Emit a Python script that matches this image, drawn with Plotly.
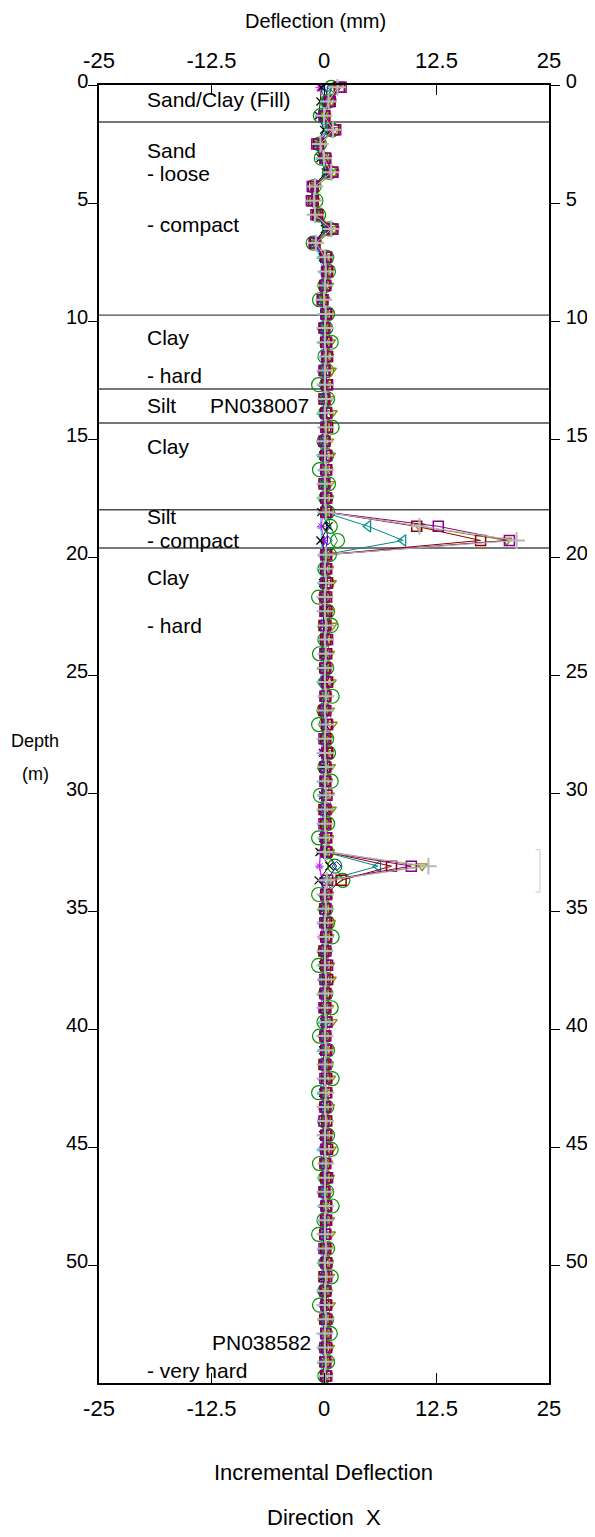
import plotly.graph_objects as go

# ---------------- data ----------------
depth = [-0.5, 0.1, 0.7, 1.3, 1.9, 2.5, 3.1, 3.7, 4.3, 4.9,
         5.5, 6.1, 6.7, 7.3, 7.9, 8.5, 9.1, 9.7, 10.3, 10.9,
         11.5, 12.1, 12.7, 13.3, 13.9, 14.5, 15.1, 15.7, 16.3, 16.9,
         17.5, 18.1, 18.7, 19.3, 19.9, 20.5, 21.1, 21.7, 22.3, 22.9,
         23.5, 24.1, 24.7, 25.3, 25.9, 26.5, 27.1, 27.7, 28.3, 28.9,
         29.5, 30.1, 30.7, 31.3, 31.9, 32.5, 33.1, 33.7, 34.3, 34.9,
         35.5, 36.1, 36.7, 37.3, 37.9, 38.5, 39.1, 39.7, 40.3, 40.9,
         41.5, 42.1, 42.7, 43.3, 43.9, 44.5, 45.1, 45.7, 46.3, 46.9,
         47.5, 48.1, 48.7, 49.3, 49.9, 50.5, 51.1, 51.7, 52.3, 52.9,
         53.5, 54.1, 54.7]

s_cyan = [-0.4, -0.2, 0.0, -0.6, 0.2, -0.9, -0.5, 0.2, -1.2, -1.2,
          -0.8, 0.2, -1.3, -0.4, -0.2, -0.3, -0.5, -0.2, -0.4, -0.3,
          -0.2, -0.4, -0.3, -0.1, -0.4, -0.2, -0.3, -0.4, -0.2, -0.3,
          -0.2, -0.3, -0.4, -0.2, -0.3, -0.4, -0.2, -0.3, -0.1, -0.4,
          -0.3, -0.2, -0.4, -0.3, -0.2, -0.4, -0.1, -0.3, -0.2, -0.4,
          -0.3, -0.2, -0.4, -0.3, -0.2, -0.4, -0.5, -0.3, -0.2, -0.4,
          -0.3, -0.1, -0.4, -0.2, -0.3, -0.4, -0.2, -0.3, -0.1, -0.4,
          -0.2, -0.3, -0.4, -0.2, -0.3, -0.1, -0.4, -0.2, -0.3, -0.4,
          -0.2, -0.3, -0.1, -0.4, -0.2, -0.3, -0.4, -0.2, -0.3, -0.2,
          -0.3, -0.4, -0.2]

s_magenta = [0.6, -0.5, 0.3, -0.5, 0.4, -0.9, -0.4, 0.3, -1.3, -1.3,
             -0.9, 0.3, -1.2, -0.2, 0.0, -0.3, -0.4, 0.0, -0.3, -0.1,
             0.0, -0.3, -0.1, 0.1, -0.2, 0.0, -0.3, -0.1, 0.0, -0.2,
             0.0, -0.1, -0.3, 0.0, -0.2, -0.1, 0.0, -0.3, -0.1, 0.0,
             -0.2, 0.1, -0.1, -0.3, 0.0, -0.2, 0.1, -0.1, -0.3, 0.0,
             -0.1, -0.2, 0.0, -0.3, -0.1, -0.4, -0.5, -0.2, -0.1, 0.0,
             -0.2, -0.3, 0.1, -0.1, 0.0, -0.2, -0.3, 0.0, -0.1, 0.1,
             -0.2, 0.0, -0.1, -0.3, 0.0, -0.1, -0.2, 0.1, -0.1, -0.3,
             0.0, -0.2, -0.1, 0.1, -0.3, 0.0, -0.1, -0.2, 0.0, -0.1,
             -0.2, 0.0, -0.1]

s_blue = [0.8, 0.4, 0.1, -0.3, 0.5, -0.6, -0.1, 0.4, -1.0, -1.1,
          -0.7, 0.4, -1.0, 0.0, 0.1, 0.2, -0.2, 0.1, 0.0, 0.2,
          0.1, 0.0, 0.2, 0.1, 0.0, 0.1, 0.2, 0.0, 0.1, 0.2,
          0.0, 0.1, 0.3, 0.4, 0.1, 0.2, 0.0, 0.1, 0.2, 0.1,
          0.0, 0.2, 0.1, 0.0, 0.1, 0.2, 0.1, 0.0, 0.2, 0.1,
          0.0, 0.1, 0.2, 0.0, 0.1, 0.2, 1.4, 0.3, 0.1, 0.0,
          0.2, 0.1, 0.0, 0.1, 0.2, 0.0, 0.1, 0.2, 0.1, 0.0,
          0.1, 0.2, 0.0, 0.1, 0.2, 0.1, 0.0, 0.1, 0.2, 0.0,
          0.1, 0.2, 0.1, 0.0, 0.2, 0.1, 0.0, 0.1, 0.2, 0.1,
          0.0, 0.1, 0.2]

s_black = [0.9, -0.3, -0.4, -0.6, 0.0, -0.8, -0.4, 0.2, -1.1, -1.0,
           -0.8, 0.1, -1.1, -0.1, 0.1, -0.1, -0.3, 0.1, -0.1, 0.0,
           0.1, -0.1, 0.0, 0.1, -0.1, 0.0, 0.1, -0.1, 0.0, 0.1,
           0.0, -0.3, 0.5, -0.4, 0.3, 0.0, -0.1, 0.1, 0.0, -0.1,
           0.1, 0.0, -0.1, 0.1, 0.0, -0.1, 0.1, 0.0, -0.1, 0.0,
           0.1, -0.1, 0.0, 0.1, -0.1, -0.5, 0.6, -0.6, 0.5, 0.0,
           -0.1, 0.1, 0.0, -0.1, 0.1, 0.0, -0.1, 0.0, 0.1, -0.1,
           0.0, 0.1, -0.1, 0.0, 0.1, -0.1, 0.0, 0.1, 0.0, -0.1,
           0.1, 0.0, -0.1, 0.0, 0.1, -0.1, 0.0, 0.1, -0.1, 0.0,
           0.1, 0.0, -0.1]

s_teal = [1.0, 0.9, 0.2, -0.3, 0.6, -0.7, -0.2, 0.5, -1.0, -1.0,
          -0.8, 0.5, -1.1, -0.1, 0.1, 0.0, -0.3, 0.1, -0.2, 0.0,
          0.1, -0.1, 0.0, 0.2, -0.1, 0.1, 0.0, -0.2, 0.1, 0.0,
          0.1, 0.0, 4.9, 8.8, 0.1, 0.0, -0.1, 0.1, 0.0, 0.2,
          -0.1, 0.0, 0.1, -0.2, 0.0, 0.1, 0.0, -0.1, 0.2, 0.0,
          0.1, -0.1, 0.0, 0.1, 0.0, 0.1, 6.0, 0.3, 0.0, 0.1,
          -0.1, 0.0, 0.2, 0.0, -0.1, 0.1, 0.0, 0.1, -0.2, 0.0,
          0.1, 0.0, -0.1, 0.1, 0.0, 0.2, -0.1, 0.0, 0.1, 0.0,
          -0.1, 0.1, 0.0, 0.1, -0.1, 0.0, 0.2, 0.0, -0.1, 0.1,
          0.0, 0.1, 0.0]

s_green = [1.4, 0.8, 0.4, -0.4, 0.9, -0.5, -0.3, 0.6, -1.1, -0.9,
           -0.6, 0.6, -1.2, 0.3, 0.5, 0.1, -0.5, 0.4, 0.2, 0.8,
           0.1, 0.3, -0.6, 0.4, 0.2, 0.9, 0.0, 0.3, -0.5, 0.5,
           0.2, 0.4, 0.7, 1.5, 0.6, 0.1, 0.3, -0.6, 0.4, 0.8,
           0.1, -0.5, 0.3, 0.2, 0.9, 0.0, -0.6, 0.3, 0.5, 0.1,
           0.8, -0.4, 0.2, 0.4, -0.6, 0.3, 1.2, 2.1, -0.6, 0.2,
           0.4, 0.9, 0.1, -0.6, 0.3, 0.2, 0.8, 0.0, -0.5, 0.4,
           0.2, 0.9, -0.6, 0.3, 0.1, 0.4, 0.8, -0.5, 0.2, 0.3,
           0.9, 0.0, -0.6, 0.4, 0.2, 0.8, 0.1, -0.5, 0.3, 0.7,
           0.2, 0.4, 0.1]

s_olive = [1.8, 1.4, 0.8, 0.2, 1.2, -0.4, 0.3, 1.1, -0.9, -1.0,
           -0.6, 1.1, -0.8, 0.4, 0.6, 0.5, 0.1, 0.6, 0.3, 0.7,
           0.5, 0.8, 0.4, 0.6, 0.9, 0.3, 0.5, 0.7, 0.4, 0.6,
           0.5, 0.4, 10.6, 20.3, 0.6, 0.5, 0.8, 0.3, 0.6, 0.9,
           0.4, 0.6, 0.5, 0.8, 0.3, 0.6, 0.9, 0.4, 0.5, 0.7,
           0.4, 0.6, 0.8, 0.3, 0.5, 0.6, 10.9, 0.7, 0.5, 0.4,
           0.7, 0.5, 0.3, 0.6, 0.8, 0.4, 0.5, 0.9, 0.3, 0.6,
           0.5, 0.7, 0.4, 0.6, 0.3, 0.5, 0.8, 0.4, 0.6, 0.5,
           0.3, 0.6, 0.7, 0.4, 0.5, 0.6, 0.3, 0.7, 0.5, 0.4,
           0.6, 0.5, 0.4]

s_darkred = [2.3, 1.7, 0.6, 0.1, 1.1, -0.6, 0.1, 0.9, -1.2, -1.2,
             -0.7, 0.9, -1.0, 0.2, 0.4, 0.1, -0.2, 0.3, 0.0, 0.2,
             0.4, 0.1, 0.3, 0.0, 0.2, 0.4, 0.1, 0.2, 0.3, 0.0,
             0.2, 0.2, 10.3, 17.4, 0.3, 0.2, 0.4, 0.1, 0.3, 0.0,
             0.2, 0.3, 0.1, 0.4, 0.2, 0.0, 0.3, 0.2, 0.4, 0.1,
             0.2, 0.3, 0.0, 0.2, 0.3, 0.3, 7.5, 1.9, 0.2, 0.1,
             0.3, 0.2, 0.0, 0.2, 0.4, 0.1, 0.2, 0.3, 0.1, 0.2,
             0.0, 0.3, 0.2, 0.1, 0.3, 0.2, 0.4, 0.1, 0.2, 0.0,
             0.3, 0.2, 0.1, 0.2, 0.3, 0.0, 0.2, 0.3, 0.1, 0.2,
             0.3, 0.1, 0.2]

s_purple = [2.6, 1.9, 0.7, 0.0, 1.3, -0.8, 0.2, 1.0, -1.3, -1.4,
            -0.9, 1.0, -1.1, 0.3, 0.3, 0.2, -0.1, 0.2, 0.1, 0.3,
            0.3, 0.0, 0.4, 0.1, 0.3, 0.2, 0.0, 0.3, 0.2, 0.1,
            0.3, 0.3, 12.7, 20.6, 0.2, 0.3, 0.2, 0.3, 0.1, 0.2,
            0.4, 0.1, 0.2, 0.3, 0.1, 0.2, 0.4, 0.0, 0.3, 0.2,
            0.1, 0.3, 0.2, 0.0, 0.2, 0.2, 9.7, 0.4, 0.3, 0.2,
            0.1, 0.3, 0.2, 0.4, 0.1, 0.2, 0.0, 0.3, 0.2, 0.3,
            0.2, 0.1, 0.3, 0.2, 0.0, 0.3, 0.2, 0.2, 0.4, 0.1,
            0.2, 0.3, 0.2, 0.0, 0.2, 0.3, 0.1, 0.2, 0.3, 0.2,
            0.1, 0.2, 0.3]

s_gray = [2.2, 1.5, 0.5, 0.0, 1.0, -0.4, 0.0, 0.8, -1.0, -1.1,
          -1.0, 0.8, -0.9, 0.1, 0.2, 0.1, 0.0, 0.2, 0.1, 0.1,
          0.2, 0.1, 0.1, 0.2, 0.1, 0.2, 0.1, 0.1, 0.2, 0.1,
          0.1, 0.2, 10.6, 21.4, 0.2, 0.1, 0.2, 0.1, 0.1, 0.2,
          0.1, 0.2, 0.1, 0.1, 0.2, 0.1, 0.2, 0.1, 0.1, 0.2,
          0.1, 0.2, 0.1, 0.1, 0.2, 0.1, 11.6, 0.3, 0.1, 0.2,
          0.1, 0.2, 0.1, 0.1, 0.2, 0.1, 0.1, 0.2, 0.1, 0.2,
          0.1, 0.1, 0.2, 0.1, 0.2, 0.1, 0.1, 0.2, 0.1, 0.1,
          0.2, 0.1, 0.1, 0.2, 0.1, 0.2, 0.1, 0.1, 0.2, 0.1,
          0.1, 0.2, 0.1]

series_values = [s_cyan, s_magenta, s_blue, s_black, s_teal, s_green,
                 s_olive, s_darkred, s_purple, s_gray]
series_colors = ["#00e5ee", "#ff00ff", "#0000cd", "#000000", "#008b8b", "#009000",
                 "#8b8b00", "#8b0000", "#8b008b", "#b8b8b8"]
series_symbols = ["triangle-up-open", "asterisk-open", "diamond-open", "x-thin-open",
                  "triangle-left-open", "circle-open", "triangle-down-open",
                  "square-open", "square-open", "cross-thin-open"]
series_sizes = [6, 7, 7, 8, 10, 14, 9, 10, 10, 12]
series_mlw = [1, 1, 1, 1.2, 1.2, 1.2, 1.4, 1.5, 1.5, 2]

layer_depths = [1.57, 9.75, 12.88, 14.32, 18.0, 19.62]

layer_labels = ["Sand/Clay (Fill)", "Sand", "- loose", "- compact", "Clay", "- hard",
                "Silt", "Clay", "Silt", "- compact", "Clay", "- hard", "- very hard"]
layer_label_depths = [0.6, 2.76, 3.76, 5.9, 10.7, 12.3, 13.6, 15.3, 18.3, 19.3,
                      20.85, 22.9, 54.45]

probe_labels = ["PN038007", "PN038582"]
probe_label_depths = [13.6, 53.3]
probe_label_x = [-7.2, -1.3]
probe_label_anchor = ["center", "right"]

x_ticks = [-25, -12.5, 0, 12.5, 25]
x_ticktext = ["-25", "-12.5", "0", "12.5", "25"]
y_ticks = [0, 5, 10, 15, 20, 25, 30, 35, 40, 45, 50]

FONT = "Liberation Sans, Arial, sans-serif"

fig = go.Figure()
for vals, col, sym, sz, lw in zip(series_values, series_colors, series_symbols,
                                   series_sizes, series_mlw):
    fig.add_trace(go.Scatter(
        x=vals, y=depth, mode="lines+markers",
        line=dict(color=col, width=1),
        marker=dict(symbol=sym, size=sz, color=col, line=dict(color=col, width=lw)),
        cliponaxis=False, showlegend=False, xaxis="x", yaxis="y"))

# layer boundary lines
for d in layer_depths:
    fig.add_shape(type="line", xref="x", yref="y", x0=-25, x1=25, y0=d, y1=d,
                  line=dict(color="#4a4a4a", width=1.4), layer="below")

# faint bracket on the right
fig.add_shape(type="path", xref="x", yref="y",
              path="M 23.5 32.4 L 24.0 32.4 L 24.0 34.2 L 23.5 34.2",
              line=dict(color="#cccccc", width=1))

annotations = []
for txt, d in zip(layer_labels, layer_label_depths):
    annotations.append(dict(x=-19.8, y=d, xref="x", yref="y", text=txt, showarrow=False,
                            xanchor="left", yanchor="middle", borderpad=0,
                            font=dict(family=FONT, size=21, color="black")))
for txt, d, xx, anc in zip(probe_labels, probe_label_depths, probe_label_x, probe_label_anchor):
    annotations.append(dict(x=xx, y=d, xref="x", yref="y", text=txt, showarrow=False,
                            xanchor=anc, yanchor="middle", borderpad=0,
                            font=dict(family=FONT, size=21, color="black")))

annotations += [
    dict(x=0.482, y=1.0492, xref="paper", yref="paper", text="Deflection (mm)",
         showarrow=False, xanchor="center", yanchor="middle", borderpad=0,
         font=dict(family=FONT, size=20, color="black")),
    dict(x=-0.142, y=27.8, xref="paper", yref="y", text="Depth", showarrow=False,
         xanchor="center", yanchor="middle", font=dict(family=FONT, size=18, color="black")),
    dict(x=-0.142, y=29.2, xref="paper", yref="y", text="(m)", showarrow=False,
         xanchor="center", yanchor="middle", font=dict(family=FONT, size=18, color="black")),
    dict(x=0.498, y=-0.0693, xref="paper", yref="paper", text="Incremental Deflection",
         showarrow=False, xanchor="center", yanchor="middle",
         font=dict(family=FONT, size=22, color="black")),
    dict(x=0.5, y=-0.104, xref="paper", yref="paper", text="Direction\u00a0\u00a0X",
         showarrow=False, xanchor="center", yanchor="middle",
         font=dict(family=FONT, size=22, color="black")),
]

x_font = dict(family=FONT, size=22, color="black")
y_font = dict(family=FONT, size=20, color="black")
common = dict(showgrid=False, zeroline=False, showline=True, linecolor="black",
              linewidth=1.5, tickcolor="black", automargin=False)
fig.update_layout(
    template="none",
    width=586, height=1521,
    margin=dict(l=91, r=45, t=77, b=146, autoexpand=False),
    paper_bgcolor="white", plot_bgcolor="white",
    showlegend=False,
    annotations=annotations,
    xaxis=dict(range=[-25, 25], tickvals=x_ticks, ticktext=x_ticktext, side="bottom",
               ticks="inside", ticklen=10, ticklabelstandoff=5, anchor="y",
               tickfont=x_font, **common),
    xaxis2=dict(range=[-25, 25], tickvals=x_ticks, ticktext=x_ticktext, side="top",
                overlaying="x", ticks="inside", ticklen=10, ticklabelstandoff=6,
                anchor="y", tickfont=x_font, **common),
    yaxis=dict(range=[55, 0], tickvals=y_ticks, side="left", ticks="outside", ticklen=9,
               ticklabelstandoff=-4, ticklabelshift=4, anchor="x", tickfont=y_font,
               **common),
    yaxis2=dict(range=[55, 0], tickvals=y_ticks, side="right", overlaying="y",
                ticks="outside", ticklen=9, ticklabelstandoff=2, ticklabelshift=4,
                anchor="x", tickfont=y_font, **common),
)
# dummy trace so that the secondary axes render
fig.add_trace(go.Scatter(x=[None], y=[None], xaxis="x2", yaxis="y2", showlegend=False))

fig.write_html("out.html")
